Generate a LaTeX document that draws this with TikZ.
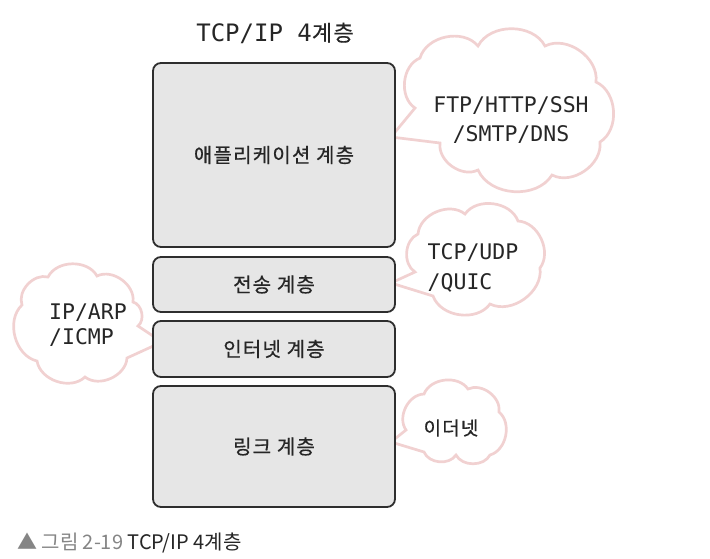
\documentclass[tikz,border=0pt]{standalone}
\usepackage{fontspec}
\setmainfont{Noto Sans CJK KR}
\newfontfamily\mono{DejaVu Sans Mono}
\newfontfamily\kr[LetterSpace=6, FakeBold=0.6]{Noto Sans CJK KR}
\newfontfamily\krcap{Noto Sans CJK KR}
\usetikzlibrary{shapes.symbols}
\definecolor{cloudpink}{HTML}{F1D1D1}
\definecolor{boxgray}{HTML}{E6E6E6}
\definecolor{boxline}{HTML}{2E2E2E}
\definecolor{capgray}{HTML}{858585}
\definecolor{captext}{HTML}{262626}
\tikzset{
  layerbox/.style={draw=boxline, fill=boxgray, line width=1.8pt, rounded corners=8pt,
    minimum width=242pt, inner sep=0pt, font=\kr\fontsize{20}{24}\selectfont, text=black!85},
  bubble/.style={draw=cloudpink, fill=white, line width=2.7pt, line join=miter},
  puff/.style={bend left=62},
  monotext/.style={font=\mono\fontsize{21.5}{28}\selectfont, text=black!85, inner sep=0pt},
  krtext/.style={font=\kr\fontsize{19}{23}\selectfont, text=black!85, inner sep=0pt},
}
\begin{document}
\begin{tikzpicture}[x=1pt,y=-1pt]
\useasboundingbox[fill=white] (0,0) rectangle (710,558);

% ---- tail tips ----
\coordinate (tip1) at (391,137);
\coordinate (tip2) at (391,283);
\coordinate (tip3) at (391,442);
\coordinate (tip4) at (162,342);

% ---- clouds with tails ----
\path[bubble] (415,108) to[puff] (420,58) to[puff] (478,46) to[puff] (545,46)
  to[puff] (596,82) to[puff] (600,142) to[puff] (552,175) to[puff] (478,170)
  to[puff] (440,143) -- (tip1) -- cycle;
\path[bubble] (415,272) to[puff] (418,234) to[puff] (465,214) to[puff] (518,221)
  to[puff] (540,268) to[puff] (490,304) to[puff] (433,296) -- (tip2) -- cycle;
\path[bubble] (406,430) to[puff] (424,394) to[puff] (468,389) to[puff] (499,412)
  to[puff] (490,455) to[puff] (456,455) to[puff] (424,452) -- (tip3) -- cycle;
\path[bubble] (127,358) to[puff] (85,377) to[puff] (37,361) to[puff] (22,305)
  to[puff] (48,277) to[puff] (97,276) to[puff] (133,302) to[puff] (138,326)
  -- (tip4) -- cycle;

% ---- cloud texts ----
\node[monotext, align=center] (t1) at (511,120) {FTP/HTTP/SSH\\[1pt]/SMTP/DNS};
\node[monotext, align=left] (t2) at (473,268) {TCP/UDP\\[2pt]/QUIC};
\node[krtext] (t3) at (451,428) {이더넷};
\node[monotext, align=left, font=\mono\fontsize{21.5}{25}\selectfont] (t4) at (88,325) {IP/ARP\\/ICMP};

% ---- layer boxes ----
\node[layerbox, minimum height=184pt] (app) at (274,155) {애플리케이션 계층};
\node[layerbox, minimum height=55pt] (trans) at (274,284.5) {전송 계층};
\node[layerbox, minimum height=56pt] (inet) at (274,349) {인터넷 계층};
\node[layerbox, minimum height=121pt] (link) at (274,446.5) {링크 계층};

% ---- title ----
\node[inner sep=0pt, text=black!85] (title) at (275,33)
  {{\mono\fontsize{24}{28}\selectfont TCP/IP 4}{\kr\fontsize{22}{26}\selectfont 계층}};

% ---- caption ----
\node[anchor=west, inner sep=0pt, font=\krcap\fontsize{20}{24}\selectfont] (cap) at (17,543)
  {\textcolor{capgray}{▲ 그림 2-19} \textcolor{captext}{TCP/IP 4계층}};
\end{tikzpicture}
\end{document}
